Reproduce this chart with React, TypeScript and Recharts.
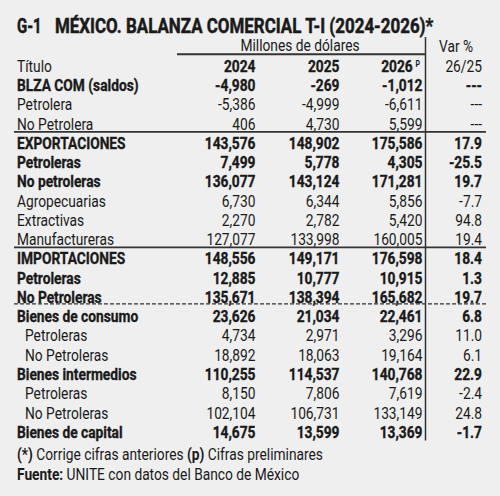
import React from 'react';
import { ComposedChart, XAxis, YAxis, Customized } from 'recharts';

const headerLabels = ['Título', '2024', '2025', '2026', '26/25'];

const rowLabels = [
  'BLZA COM (saldos)', 'Petrolera', 'No Petrolera',
  'EXPORTACIONES', 'Petroleras', 'No petroleras', 'Agropecuarias', 'Extractivas', 'Manufactureras',
  'IMPORTACIONES', 'Petroleras', 'No Petroleras',
  'Bienes de consumo', 'Petroleras', 'No Petroleras',
  'Bienes intermedios', 'Petroleras', 'No Petroleras',
  'Bienes de capital',
];
const values2024 = [-4980, -5386, 406, 143576, 7499, 136077, 6730, 2270, 127077, 148556, 12885, 135671, 23626, 4734, 18892, 110255, 8150, 102104, 14675];
const values2025 = [-269, -4999, 4730, 148902, 5778, 143124, 6344, 2782, 133998, 149171, 10777, 138394, 21034, 2971, 18063, 114537, 7806, 106731, 13599];
const values2026 = [-1012, -6611, 5599, 175586, 4305, 171281, 5856, 5420, 160005, 176598, 10915, 165682, 22461, 3296, 19164, 140768, 7619, 133149, 13369];
const varPct: (number | null)[] = [null, null, null, 17.9, -25.5, 19.7, -7.7, 94.8, 19.4, 18.4, 1.3, 19.7, 6.8, 11.0, 6.1, 22.9, -2.4, 24.8, -1.7];

const boldRows = [0, 3, 4, 5, 9, 10, 11, 12, 15, 18];
const indentRows = [13, 14, 16, 17];
const solidAfter = [2, 8];
const dashedAfter = [11];

const data = [
  { id: 'h', kind: 'header', i: -1 },
  ...rowLabels.map((label, i) => ({
    id: 'r' + i,
    kind: 'row',
    i,
    label,
    v2024: values2024[i],
    v2025: values2025[i],
    v2026: values2026[i],
    vp: varPct[i],
  })),
];

const FONT = "Roboto, 'Noto Sans', sans-serif";
const INK = '#1a1a1a';
const FS = 17;
const SX = 0.81;
const COL_LABEL = 17;
const COL_INDENT = 25;
const COL_2024 = 255.5;
const COL_2025 = 339.5;
const COL_2026 = 422.5;
const COL_VAR = 482;
const LINE_L = 14;
const LINE_R = 486;

const fmt = (v: number) => v.toLocaleString('en-US');
const fmtPct = (v: number | null) => (v === null ? '---' : v.toFixed(1));

const byId: Record<string, any> = {};
data.forEach((d) => (byId[d.id] = d));

const T = ({ x, y, anchor = 'start', size = FS, weight = 'normal', sx = SX, heavy = 0, children }: any) => (
  <g transform={`translate(${x},${y}) scale(${sx},1)`}>
    <text
      x={0}
      y={0}
      textAnchor={anchor}
      fontSize={size}
      fontWeight={weight}
      fontFamily={FONT}
      fill={INK}
      stroke={heavy ? INK : 'none'}
      strokeWidth={heavy}
    >
      {children}
    </text>
  </g>
);

const RowTick = (props: any) => {
  const { y, payload } = props;
  const d = byId[payload.value];
  if (!d) return null;
  const base = y + 6;
  if (d.kind === 'header') {
    return (
      <g>
        <T x={COL_LABEL} y={base}>{headerLabels[0]}</T>
        <T x={COL_2024} y={base} anchor="end" weight="bold" heavy={0.35}>{headerLabels[1]}</T>
        <T x={COL_2025} y={base} anchor="end" weight="bold" heavy={0.35}>{headerLabels[2]}</T>
        <T x={412.7} y={base} anchor="end" weight="bold" heavy={0.35}>{headerLabels[3]}</T>
        <T x={415.5} y={base - 5} weight="bold" size={8.5}>P</T>
        <T x={COL_VAR} y={base} anchor="end">{headerLabels[4]}</T>
      </g>
    );
  }
  const bold = boldRows.includes(d.i);
  const indent = indentRows.includes(d.i);
  const fw = bold ? 'bold' : 'normal';
  const hv = bold ? 0.35 : 0;
  return (
    <g>
      <T x={indent ? COL_INDENT : COL_LABEL} y={base} weight={fw} heavy={hv}>{d.label}</T>
      <T x={COL_2024} y={base} anchor="end" weight={fw} heavy={hv}>{fmt(d.v2024)}</T>
      <T x={COL_2025} y={base} anchor="end" weight={fw} heavy={hv}>{fmt(d.v2025)}</T>
      <T x={COL_2026} y={base} anchor="end" weight={fw} heavy={hv}>{fmt(d.v2026)}</T>
      <T x={COL_VAR} y={base} anchor="end" weight={fw} heavy={hv}>{fmtPct(d.vp)}</T>
      {solidAfter.includes(d.i) && (
        <line x1={LINE_L} x2={LINE_R} y1={y + 8.3} y2={y + 8.3} stroke="#333" strokeWidth={1.6} />
      )}
      {dashedAfter.includes(d.i) && (
        <line x1={LINE_L} x2={LINE_R} y1={y + 7} y2={y + 7} stroke="#333" strokeWidth={1.4} strokeDasharray="4 2" />
      )}
    </g>
  );
};

const Decorations = () => (
  <g>
    <T x={17} y={32.5} size={19.7} sx={0.76} weight="bold" heavy={0.5}>G-1</T>
    <T x={55} y={32.5} size={19.7} sx={0.86} weight="bold" heavy={0.5}>MÉXICO. BALANZA COMERCIAL T-I (2024-2026)*</T>
    <T x={300} y={51} anchor="middle">Millones de dólares</T>
    <T x={456} y={51.7} anchor="middle">Var %</T>
    <line x1={177} x2={425} y1={54.3} y2={54.3} stroke="#333" strokeWidth={2} />
    <line x1={425.5} x2={425.5} y1={37} y2={440.5} stroke="#333" strokeWidth={1.5} />
    <T x={17} y={460}>
      <tspan fontWeight="bold">(*)</tspan> Corrige cifras anteriores <tspan fontWeight="bold">(p)</tspan> Cifras preliminares
    </T>
    <T x={17} y={479.5}>
      <tspan fontWeight="bold">Fuente:</tspan> UNITE con datos del Banco de México
    </T>
  </g>
);

export default function App() {
  return (
    <div style={{ position: 'absolute', left: 0, top: 0, width: 500, height: 496, background: '#efefef' }}>
      <ComposedChart
        width={500}
        height={496}
        data={data}
        layout="vertical"
        margin={{ top: 56.1, bottom: 54.6, left: 0, right: 0 }}
      >
        <XAxis type="number" hide />
        <YAxis
          type="category"
          dataKey="id"
          scale="band"
          width={1}
          interval={0}
          tickLine={false}
          axisLine={false}
          tick={<RowTick />}
          isAnimationActive={false}
        />
        <Customized component={<Decorations />} />
      </ComposedChart>
    </div>
  );
}
